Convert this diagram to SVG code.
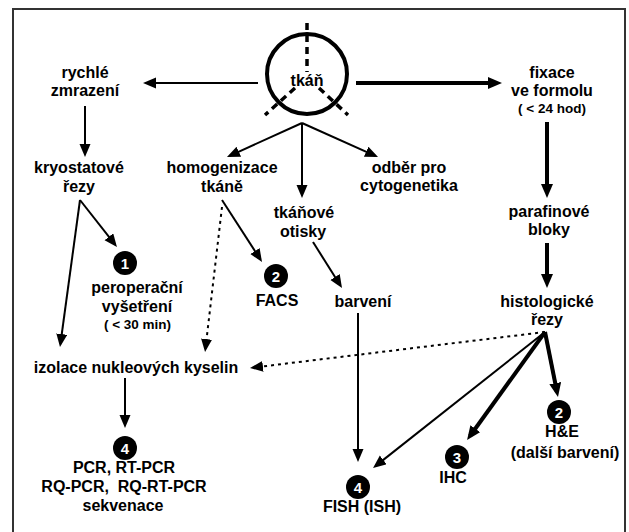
<svg xmlns="http://www.w3.org/2000/svg" width="629" height="532" viewBox="0 0 629 532">
<style>
text{font-family:"Liberation Sans",Arial,sans-serif;font-weight:bold;font-size:16px;fill:#000;text-anchor:middle}
.sm{font-size:13.5px}
.num{fill:#fff;font-size:15px}
.thin{stroke:#000;stroke-width:2;fill:none}
.thick{stroke:#000;stroke-width:4;fill:none}
.dot{stroke:#000;stroke-width:2;fill:none;stroke-dasharray:3 4}
.dash{stroke:#000;stroke-width:3.5;fill:none;stroke-dasharray:7 5}
</style>
<defs>
<marker id="ah" markerUnits="userSpaceOnUse" markerWidth="15" markerHeight="13" refX="10" refY="5.5" orient="auto">
<path d="M0,0 L13,5.5 L0,11 Z" fill="#000"/>
</marker>
<marker id="ahT" markerUnits="userSpaceOnUse" markerWidth="16" markerHeight="14" refX="9" refY="6" orient="auto">
<path d="M0,0 L14,6 L0,12 Z" fill="#000"/>
</marker>
</defs>
<rect x="0" y="0" width="629" height="532" fill="#fff"/>
<rect x="13" y="9" width="612" height="540" fill="none" stroke="#333" stroke-width="2"/>

<g id="tkan">
<circle cx="307" cy="74" r="40" fill="none" stroke="#000" stroke-width="4"/>
<line class="dash" x1="307" y1="23" x2="307" y2="72"/>
<line class="dash" x1="295" y1="88" x2="265" y2="115"/>
<line class="dash" x1="319" y1="88" x2="348" y2="115"/>
<text x="307" y="86">tkáň</text>
</g>

<g id="connectors">
<line class="thin" x1="258" y1="83" x2="146" y2="83" marker-end="url(#ah)"/>
<line class="thick" x1="356" y1="83" x2="497" y2="83" marker-end="url(#ahT)"/>
<line class="thin" x1="302" y1="123" x2="229.7" y2="155.8" marker-end="url(#ah)"/>
<line class="thin" x1="302" y1="123" x2="302" y2="195" marker-end="url(#ah)"/>
<line class="thin" x1="302" y1="123" x2="375.3" y2="155.8" marker-end="url(#ah)"/>
<line class="thin" x1="85" y1="106" x2="85" y2="154" marker-end="url(#ah)"/>
<line class="thin" x1="80" y1="200" x2="115.1" y2="244.6" marker-end="url(#ah)"/>
<line class="thin" x1="80" y1="200" x2="60.4" y2="344" marker-end="url(#ah)"/>
<line class="thin" x1="222" y1="200" x2="260.4" y2="259.5" marker-end="url(#ah)"/>
<line class="dot" x1="222" y1="207" x2="205.4" y2="349" marker-end="url(#ah)"/>
<line class="thin" x1="313" y1="242" x2="340.4" y2="285.5" marker-end="url(#ah)"/>
<line class="thin" x1="358" y1="313" x2="358" y2="459" marker-end="url(#ah)"/>
<line class="thick" x1="547" y1="122" x2="547" y2="193" marker-end="url(#ahT)"/>
<line class="thick" x1="547" y1="243" x2="547" y2="283" marker-end="url(#ahT)"/>
<line class="dot" x1="545" y1="332" x2="253" y2="367.6" marker-end="url(#ah)"/>
<line class="thin" x1="545" y1="332" x2="375.4" y2="466.1" marker-end="url(#ah)"/>
<line class="thick" x1="545" y1="332" x2="470" y2="436" marker-end="url(#ahT)"/>
<line class="thick" x1="545" y1="332" x2="557" y2="392" marker-end="url(#ahT)"/>
<line class="thin" x1="125" y1="378" x2="125" y2="425" marker-end="url(#ah)"/>
</g>

<g id="rychle"><text x="85" y="78">rychlé</text><text x="85" y="96">zmrazení</text></g>
<g id="fixace"><text x="552" y="78">fixace</text><text x="552" y="96">ve formolu</text><text class="sm" x="552" y="113">( &lt; 24 hod)</text></g>
<g id="kryostatove"><text x="79" y="173">kryostatové</text><text x="79" y="192">řezy</text></g>
<g id="homogenizace"><text x="222" y="173">homogenizace</text><text x="222" y="192">tkáně</text></g>
<g id="odber"><text x="409" y="173">odběr pro</text><text x="409" y="191">cytogenetika</text></g>
<g id="otisky"><text x="304" y="218">tkáňové</text><text x="303" y="237">otisky</text></g>
<g id="parafinove"><text x="549" y="217">parafinové</text><text x="549" y="235">bloky</text></g>
<g id="peroperacni">
<circle cx="125" cy="263" r="12" fill="#000"/><text class="num" x="125" y="268.5">1</text>
<text x="137" y="293">peroperační</text><text x="137" y="312">vyšetření</text><text class="sm" x="137.5" y="329">( &lt; 30 min)</text>
</g>
<g id="facs">
<circle cx="276" cy="276" r="12" fill="#000"/><text class="num" x="276" y="281.5">2</text>
<text x="277" y="306">FACS</text>
</g>
<g id="barveni"><text x="363" y="307">barvení</text></g>
<g id="histologicke"><text x="547" y="307">histologické</text><text x="547" y="325">řezy</text></g>
<g id="izolace"><text x="136" y="373">izolace nukleových kyselin</text></g>
<g id="pcr">
<circle cx="125" cy="448" r="12" fill="#000"/><text class="num" x="125" y="453.5">4</text>
<text x="124" y="473">PCR, RT-PCR</text><text x="124" y="492" xml:space="preserve">RQ-PCR,  RQ-RT-PCR</text><text x="123" y="511">sekvenace</text>
</g>
<g id="fish">
<circle cx="358" cy="487" r="12" fill="#000"/><text class="num" x="358" y="492.5">4</text>
<text x="362" y="512">FISH (ISH)</text>
</g>
<g id="ihc">
<circle cx="457" cy="457" r="12" fill="#000"/><text class="num" x="457" y="462.5">3</text>
<text x="453" y="483">IHC</text>
</g>
<g id="he">
<circle cx="559" cy="412" r="12" fill="#000"/><text class="num" x="559" y="417.5">2</text>
<text x="562" y="437">H&amp;E</text><text x="565" y="458">(další barvení)</text>
</g>
</svg>
